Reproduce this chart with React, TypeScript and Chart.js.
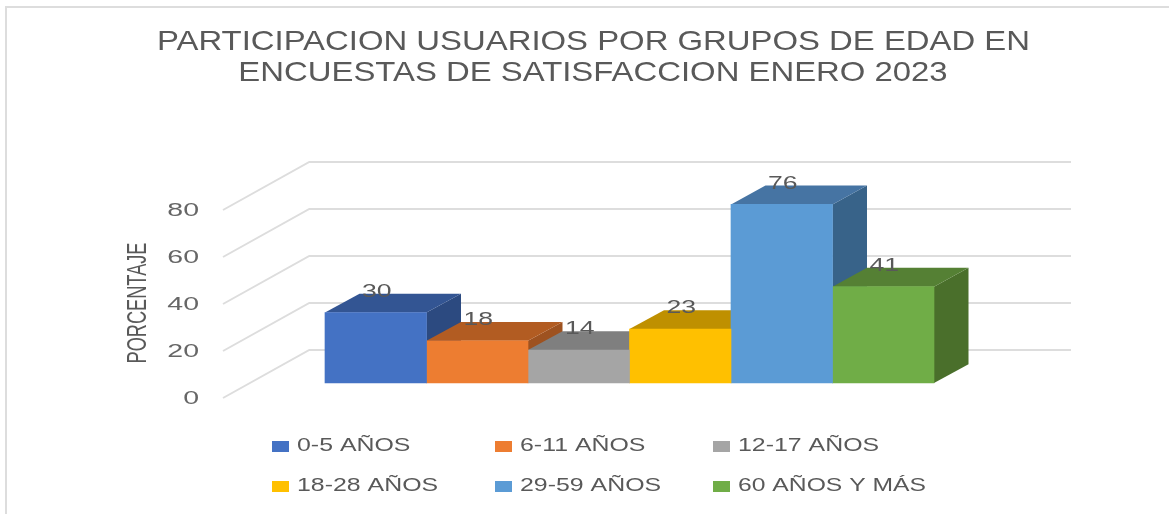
import React, { useEffect, useRef } from "react";
import { Chart, registerables } from "chart.js";

Chart.register(...registerables);

const TITLE_LINES = [
  "PARTICIPACION USUARIOS POR GRUPOS DE EDAD EN",
  "ENCUESTAS DE SATISFACCION ENERO 2023",
];
const AXIS_TITLE = "PORCENTAJE";
const CATEGORIES = ["Participación"];
const SERIES_LABELS = ["0-5 AÑOS", "6-11 AÑOS", "12-17 AÑOS", "18-28 AÑOS", "29-59 AÑOS", "60 AÑOS Y MÁS"];
const SERIES_VALUES = [30, 18, 14, 23, 76, 41];
const FRONT_COLORS = ["#4472C4", "#ED7D31", "#A5A5A5", "#FFC000", "#5B9BD5", "#70AD47"];
const TOP_COLORS = ["#335593", "#B25C22", "#7F7F7F", "#BF9000", "#4674A3", "#558034"];
const SIDE_COLORS = ["#2C4A80", "#9E5220", "#6E6E6E", "#A67D00", "#386389", "#4A6F2B"];

const TEXT = "#595959";
const GRID = "#DDDDDD";
const BAR_DEPTH = { dx: 34.5, dy: 18.8 };
const WALL = { dx: 86.3, dy: 48, left: 223, right: 1071 };
const FONT = "'Liberation Sans'";

function stretched(ctx: CanvasRenderingContext2D, text: string, x: number, y: number, font: string, sx: number, sy = 1, rot = 0, color = TEXT) {
  ctx.save();
  ctx.translate(x, y);
  if (rot) ctx.rotate(rot);
  ctx.scale(sx, sy);
  ctx.font = font;
  ctx.fillStyle = color;
  ctx.textAlign = "center";
  ctx.textBaseline = "middle";
  ctx.fillText(text, 0, 0);
  ctx.restore();
}

function widthOf(ctx: CanvasRenderingContext2D, text: string, font: string) {
  ctx.save();
  ctx.font = font;
  const w = ctx.measureText(text).width;
  ctx.restore();
  return w;
}

const frame3d = {
  id: "frame3d",
  beforeDraw(chart: any) {
    const { ctx, width, height } = chart;
    ctx.save();
    ctx.fillStyle = "#FFFFFF";
    ctx.fillRect(0, 0, width, height);
    ctx.strokeStyle = "#DDDDDD";
    ctx.lineWidth = 2;
    ctx.beginPath();
    ctx.moveTo(6, height);
    ctx.lineTo(6, 7);
    ctx.lineTo(width, 7);
    ctx.stroke();
    ctx.restore();
  },
  beforeDatasetsDraw(chart: any) {
    const { ctx } = chart;
    const yScale = chart.scales.y;
    ctx.save();
    ctx.strokeStyle = GRID;
    ctx.lineWidth = 2;
    yScale.ticks.forEach((t: any) => {
      const py = yScale.getPixelForValue(t.value);
      ctx.beginPath();
      ctx.moveTo(WALL.left, py);
      ctx.lineTo(WALL.left + WALL.dx, py - WALL.dy);
      ctx.lineTo(WALL.right, py - WALL.dy);
      ctx.stroke();
    });
    const { dx, dy } = BAR_DEPTH;
    chart.data.datasets.forEach((_: any, i: number) => {
      const bar = chart.getDatasetMeta(i).data[0];
      const half = bar.width / 2;
      const l = bar.x - half;
      const r = bar.x + half;
      const t = bar.y;
      const b = bar.base;
      ctx.fillStyle = SIDE_COLORS[i];
      ctx.beginPath();
      ctx.moveTo(r, t);
      ctx.lineTo(r + dx, t - dy);
      ctx.lineTo(r + dx, b - dy);
      ctx.lineTo(r, b);
      ctx.closePath();
      ctx.fill();
      ctx.fillStyle = TOP_COLORS[i];
      ctx.beginPath();
      ctx.moveTo(l, t);
      ctx.lineTo(l + dx, t - dy);
      ctx.lineTo(r + dx, t - dy);
      ctx.lineTo(r, t);
      ctx.closePath();
      ctx.fill();
    });
    ctx.restore();
  },
  afterDatasetsDraw(chart: any) {
    const { ctx } = chart;
    const labelFont = `19px ${FONT}`;
    // title
    const titleFont = `28px ${FONT}`;
    const titleSx = 873 / widthOf(ctx, TITLE_LINES[0], titleFont);
    stretched(ctx, TITLE_LINES[0], 593.5, 42, titleFont, titleSx);
    stretched(ctx, TITLE_LINES[1], 593, 73.5, titleFont, titleSx);
    // value labels
    chart.data.datasets.forEach((ds: any, i: number) => {
      const bar = chart.getDatasetMeta(i).data[0];
      stretched(ctx, String(ds.data[0]), bar.x + 1, bar.y - 21, labelFont, 1.4);
    });
    // y tick labels
    const yScale = chart.scales.y;
    yScale.ticks.forEach((t: any) => {
      const w = widthOf(ctx, String(t.label), labelFont) * 1.5;
      stretched(ctx, String(t.label), 199 - w / 2, yScale.getPixelForValue(t.value) + 1, labelFont, 1.5, 1, 0, "#666666");
    });
    stretched(ctx, AXIS_TITLE, 138, 303, `28px ${FONT}`, 0.65, 1, -Math.PI / 2);
    // legend
    const colX = [272, 495, 713];
    const rowY = [446.5, 486.5];
    chart.data.datasets.forEach((ds: any, i: number) => {
      const x = colX[i % 3];
      const y = rowY[Math.floor(i / 3)];
      ctx.fillStyle = FRONT_COLORS[i];
      ctx.fillRect(x, y - 5.5, 17, 11);
      const w = widthOf(ctx, ds.label, labelFont);
      const sx = Math.min(1.31, 188 / w);
      stretched(ctx, ds.label, x + 25 + (w * sx) / 2, y - 0.5, labelFont, sx);
    });
  },
};

export default function App() {
  const ref = useRef<HTMLCanvasElement>(null);
  useEffect(() => {
    const chart = new Chart(ref.current as HTMLCanvasElement, {
      type: "bar",
      plugins: [frame3d],
      data: {
        labels: CATEGORIES,
        datasets: SERIES_LABELS.map((label, i) => ({
          label,
          data: [SERIES_VALUES[i]],
          backgroundColor: FRONT_COLORS[i],
          yAxisID: "yBars",
          categoryPercentage: 1,
          barPercentage: 1,
          clip: false as any,
        })),
      },
      options: {
        responsive: false,
        animation: false,
        layout: { padding: { left: 0, right: 0, top: 210, bottom: 116 } },
        plugins: {
          legend: { display: false },
          tooltip: { enabled: false },
          title: { display: false },
        },
        scales: {
          x: { display: false, offset: true, grid: { display: false } },
          y: {
            position: "left",
            min: 0,
            max: 80,
            grid: { display: false },
            border: { display: false },
            ticks: { stepSize: 20, display: false },
            afterFit(scale: any) {
              scale.width = 325;
            },
          },
          yBars: {
            position: "right",
            min: -6.38,
            max: 73.62,
            grid: { display: false },
            border: { display: false },
            ticks: { display: false },
            afterFit(scale: any) {
              scale.width = 235;
            },
          },
        },
      },
    });
    return () => chart.destroy();
  }, []);
  return (
    <div style={{ position: "absolute", left: 0, top: 0, width: 1169, height: 514 }}>
      <canvas ref={ref} width={1169} height={514} style={{ display: "block" }} />
    </div>
  );
}
